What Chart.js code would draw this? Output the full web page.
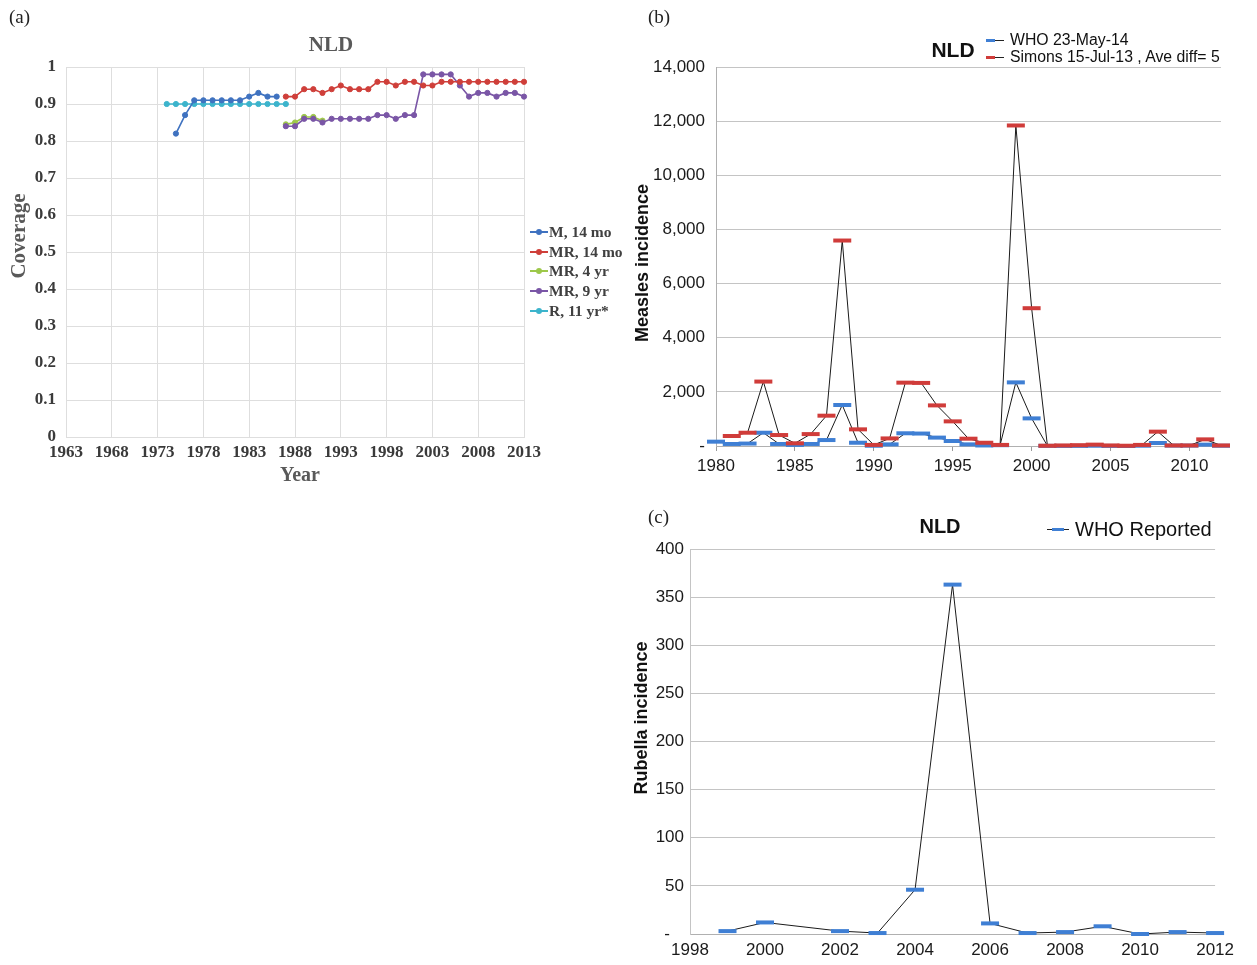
<!DOCTYPE html>
<html><head><meta charset="utf-8">
<script src="https://cdn.jsdelivr.net/npm/chart.js@4.4.1/dist/chart.umd.min.js"></script>
<style>
html,body{margin:0;padding:0;background:#fff}
body{width:1257px;height:965px;position:relative;overflow:hidden}
canvas{position:absolute;display:block}
.t{position:absolute;white-space:nowrap;line-height:1;transform:translate(-50%,-50%)}
.l{position:absolute;white-space:nowrap;line-height:1;transform:translateY(-50%)}
.serif{font-family:"Liberation Serif","DejaVu Serif",serif}
.sans{font-family:"Liberation Sans",Arial,sans-serif}
.rot{transform:translate(-50%,-50%) rotate(-90deg)}
.lm{position:absolute;height:0}
</style></head>
<body>
<canvas id="ca" width="630" height="495" style="left:0;top:0"></canvas>
<canvas id="cb" width="620" height="490" style="left:620px;top:0"></canvas>
<canvas id="cc" width="620" height="465" style="left:620px;top:500px"></canvas>

<!-- panel (a) texts -->
<div class="l serif" style="left:9px;top:16px;font-size:19px;color:#222">(a)</div>
<div class="t serif" style="left:331px;top:44px;font-size:21px;font-weight:bold;color:#595959">NLD</div>
<div class="t serif rot" style="left:18px;top:236px;font-size:21px;font-weight:bold;color:#595959">Coverage</div>
<div class="t serif" style="left:300px;top:474px;font-size:20px;font-weight:bold;color:#595959">Year</div>
<div id="legA"></div>

<!-- panel (b) texts -->
<div class="l serif" style="left:648px;top:16px;font-size:19px;color:#222">(b)</div>
<div class="t sans" style="left:953px;top:49px;font-size:21px;font-weight:bold;color:#111">NLD</div>
<div class="t sans rot" style="left:642px;top:263px;font-size:18px;font-weight:bold;color:#111">Measles incidence</div>
<div id="legB"></div>

<!-- panel (c) texts -->
<div class="l serif" style="left:648px;top:516px;font-size:19px;color:#222">(c)</div>
<div class="t sans" style="left:940px;top:526px;font-size:20px;font-weight:bold;color:#111">NLD</div>
<div class="t sans rot" style="left:641px;top:718px;font-size:18px;font-weight:bold;color:#111">Rubella incidence</div>
<div id="legC"></div>

<script>
// ---------- Panel (a): coverage ----------
const yearsM14 = [1975,1976,1977,1978,1979,1980,1981,1982,1983,1984,1985,1986];
const covM14   = [0.82,0.87,0.91,0.91,0.91,0.91,0.91,0.91,0.92,0.93,0.92,0.92];
const yearsMR14 = [1987,1988,1989,1990,1991,1992,1993,1994,1995,1996,1997,1998,1999,2000,2001,2002,2003,2004,2005,2006,2007,2008,2009,2010,2011,2012,2013];
const covMR14   = [0.92,0.92,0.94,0.94,0.93,0.94,0.95,0.94,0.94,0.94,0.96,0.96,0.95,0.96,0.96,0.95,0.95,0.96,0.96,0.96,0.96,0.96,0.96,0.96,0.96,0.96,0.96];
const yearsMR4 = [1987,1988,1989,1990,1991];
const covMR4   = [0.845,0.85,0.865,0.865,0.855];
const yearsMR9 = [1987,1988,1989,1990,1991,1992,1993,1994,1995,1996,1997,1998,1999,2000,2001,2002,2003,2004,2005,2006,2007,2008,2009,2010,2011,2012,2013];
const covMR9   = [0.84,0.84,0.86,0.86,0.85,0.86,0.86,0.86,0.86,0.86,0.87,0.87,0.86,0.87,0.87,0.98,0.98,0.98,0.98,0.95,0.92,0.93,0.93,0.92,0.93,0.93,0.92];
const yearsR11 = [1974,1975,1976,1977,1978,1979,1980,1981,1982,1983,1984,1985,1986,1987];
const covR11   = [0.90,0.90,0.90,0.90,0.90,0.90,0.90,0.90,0.90,0.90,0.90,0.90,0.90,0.90];
const seriesNamesA = ['M, 14 mo','MR, 14 mo','MR, 4 yr','MR, 9 yr','R, 11 yr*'];
const seriesColorsA = ['#3f72c0','#cf3f3a','#9dc84a','#7a56a6','#3cb4cc'];

// ---------- Panel (b): measles ----------
const measYears = [1980,1981,1982,1983,1984,1985,1986,1987,1988,1989,1990,1991,1992,1993,1994,1995,1996,1997,1998,1999,2000,2001,2002,2003,2004,2005,2006,2007,2008,2009,2010,2011,2012];
const measWHO   = [160,75,90,490,75,40,75,220,1515,120,10,60,470,460,310,185,60,20,30,2350,1020,5,3,4,10,3,1,11,110,15,15,50,10];
const measSimons= [null,370,490,2380,405,100,440,1120,7590,615,40,280,2340,2330,1500,910,270,120,40,11840,5090,10,20,30,50,20,10,40,530,20,20,245,20];
const measTicks = [0,2000,4000,6000,8000,10000,12000,14000];
const measNames = ['WHO 23-May-14','Simons 15-Jul-13 , Ave diff= 5'];

// ---------- Panel (c): rubella ----------
const rubYears = [1999,2000,2002,2003,2004,2005,2006,2007,2008,2009,2010,2011,2012];
const rubWHO   = [3,12,3,1,46,363,11,1,2,8,0,2,1];
const rubName  = 'WHO Reported';

const colWHO = '#3f7fd4', colSim = '#d03c3a';
const serifTick = {family:'"Liberation Serif","DejaVu Serif",serif', size:17, weight:'bold'};
const sansTick = {family:'"Liberation Sans",Arial,sans-serif', size:17};
const pts = (xs, ys) => xs.map((x,i)=>({x:x, y:ys[i]}));

// Panel (a) chart
const dataA = [[yearsM14,covM14],[yearsMR14,covMR14],[yearsMR4,covMR4],[yearsMR9,covMR9],[yearsR11,covR11]];
new Chart(document.getElementById('ca'), {
  type:'line',
  data:{datasets: dataA.map((d,i)=>({
    label:seriesNamesA[i], data:pts(d[0],d[1]),
    borderColor:seriesColorsA[i], backgroundColor:seriesColorsA[i],
    pointBackgroundColor:seriesColorsA[i], pointBorderColor:seriesColorsA[i],
    borderWidth:1.6, pointRadius:2.6, pointBorderWidth:1, tension:0, clip:false,
    order: i===2 ? 5 : i
  }))},
  options:{
    responsive:false, animation:false, devicePixelRatio:1,
    layout:{padding:{top:67,right:106,left:0,bottom:0}},
    plugins:{legend:{display:false}, tooltip:{enabled:false}},
    scales:{
      x:{type:'linear', min:1963, max:2013,
         ticks:{stepSize:5, font:serifTick, color:'#3a3a3a', padding:5, maxRotation:0, callback:v=>String(v)},
         grid:{color:'#dedede', drawTicks:false}, border:{display:true,color:'#dedede'},
         afterFit:s=>{s.height=58;}},
      y:{min:0, max:1,
         ticks:{stepSize:0.1, font:serifTick, color:'#3a3a3a', padding:10, callback:v=>String(Math.round(v*10)/10)},
         grid:{color:'#dedede', drawTicks:false}, border:{display:true,color:'#dedede'},
         afterFit:s=>{s.width=66;}}
    }
  }
});

// Panel (a) legend
(function(){
  const host = document.getElementById('legA');
  seriesNamesA.forEach((n,i)=>{
    const y = 232 + i*19.7;
    host.insertAdjacentHTML('beforeend',
      `<div class="lm" style="left:530px;top:${y-1}px;width:18px;border-top:2px solid ${seriesColorsA[i]}"></div>`+
      `<div style="position:absolute;left:${536}px;top:${y-3}px;width:6px;height:6px;border-radius:50%;background:${seriesColorsA[i]}"></div>`+
      `<div class="l serif" style="left:549px;top:${y}px;font-size:15.5px;font-weight:bold;color:#404040">${n}</div>`);
  });
})();

// Panel (b) chart
new Chart(document.getElementById('cb'), {
  type:'line',
  data:{labels:measYears.map(String), datasets:[
    {label:measNames[0], data:measWHO, borderColor:'#1a1a1a', borderWidth:1, pointStyle:'line',
     pointRadius:9, pointBorderWidth:4, pointBorderColor:colWHO, pointBackgroundColor:colWHO, tension:0, clip:false, order:2},
    {label:measNames[1], data:measSimons, borderColor:'#1a1a1a', borderWidth:1, pointStyle:'line',
     pointRadius:9, pointBorderWidth:4, pointBorderColor:colSim, pointBackgroundColor:colSim, tension:0, clip:false, order:1, spanGaps:true}
  ]},
  options:{
    responsive:false, animation:false, devicePixelRatio:1,
    layout:{padding:{top:67,right:19,left:0,bottom:0}},
    plugins:{legend:{display:false}, tooltip:{enabled:false}},
    scales:{
      x:{type:'category', offset:false,
         ticks:{autoSkip:false, maxRotation:0, font:sansTick, color:'#1a1a1a', padding:5,
                callback:function(v,i){ return measYears[i]%5===0 ? String(measYears[i]) : ''; }},
         grid:{drawOnChartArea:false, drawTicks:true, tickLength:5,
               color:c=> (c.index!==undefined && measYears[c.index]%5===0) ? '#9a9a9a' : 'rgba(0,0,0,0)'},
         border:{display:true,color:'#b0b0b0'},
         afterFit:s=>{s.height=44;}},
      y:{min:0, max:14000,
         afterBuildTicks:s=>{ s.ticks = measTicks.map(v=>({value:v})); },
         ticks:{font:sansTick, color:'#1a1a1a', padding:11,
                callback:v=> v===0 ? '-' : v.toLocaleString('en-US')},
         grid:{color:'#c4c4c4', drawTicks:false}, border:{display:true,color:'#b0b0b0'},
         afterFit:s=>{s.width=96;}}
    }
  }
});

// Panel (b) legend
(function(){
  const host = document.getElementById('legB');
  [[colWHO,measNames[0],40],[colSim,measNames[1],57]].forEach(([c,n,y])=>{
    host.insertAdjacentHTML('beforeend',
      `<div class="lm" style="left:986px;top:${y}px;width:18px;border-top:1px solid #222"></div>`+
      `<div class="lm" style="left:986px;top:${y-1}px;width:9px;border-top:3px solid ${c}"></div>`+
      `<div class="l sans" style="left:1010px;top:${y}px;font-size:15.8px;color:#111">${n}</div>`);
  });
})();

// Panel (c) chart
new Chart(document.getElementById('cc'), {
  type:'line',
  data:{datasets:[
    {label:rubName, data:pts(rubYears,rubWHO), borderColor:'#1a1a1a', borderWidth:1, pointStyle:'line',
     pointRadius:9, pointBorderWidth:4, pointBorderColor:colWHO, pointBackgroundColor:colWHO, tension:0, clip:false}
  ]},
  options:{
    responsive:false, animation:false, devicePixelRatio:1,
    layout:{padding:{top:49,right:18,left:0,bottom:0}},
    plugins:{legend:{display:false}, tooltip:{enabled:false}},
    scales:{
      x:{type:'linear', min:1998, max:2012,
         ticks:{stepSize:2, font:sansTick, color:'#1a1a1a', padding:6, maxRotation:0, callback:v=>String(v)},
         grid:{display:false, drawTicks:false}, border:{display:true,color:'#b0b0b0'},
         afterFit:s=>{s.height=31;}},
      y:{min:0, max:400,
         ticks:{stepSize:50, font:sansTick, color:'#1a1a1a', padding:6,
                callback:v=> v===0 ? '-   ' : String(v)},
         grid:{color:'#c4c4c4', drawTicks:false}, border:{display:true,color:'#c4c4c4'},
         afterFit:s=>{s.width=70;}}
    }
  }
});

// Panel (c) legend
document.getElementById('legC').insertAdjacentHTML('beforeend',
  `<div class="lm" style="left:1047px;top:529px;width:22px;border-top:1px solid #222"></div>`+
  `<div class="lm" style="left:1052px;top:528px;width:12px;border-top:3px solid ${colWHO}"></div>`+
  `<div class="l sans" style="left:1075px;top:529px;font-size:20px;color:#111">${rubName}</div>`);
</script>
</body></html>
